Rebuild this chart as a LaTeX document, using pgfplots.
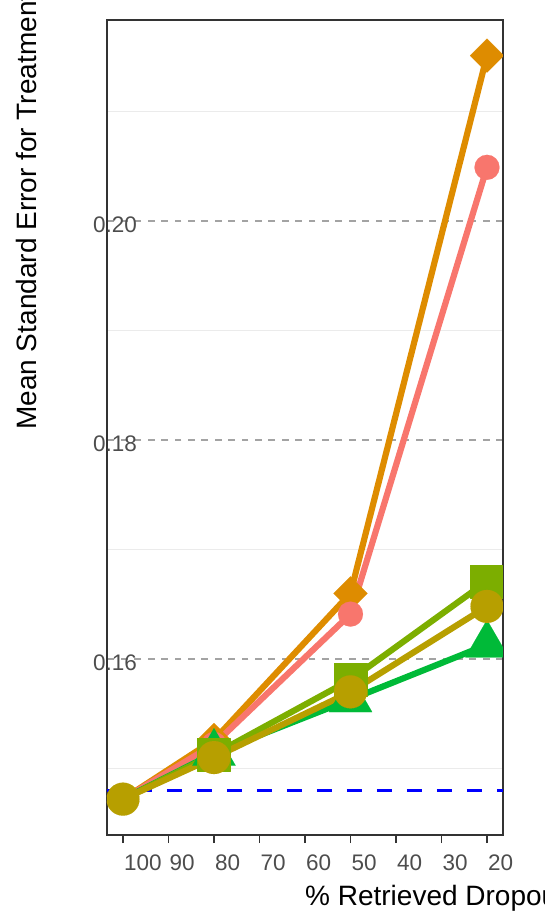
\documentclass[border=0pt]{standalone}
\usepackage{fontspec}
\setmainfont{Liberation Sans}
\usepackage{pgfplots}
\usepackage{pgfplotstable}
\pgfplotsset{compat=1.18}

\definecolor{cSalmon}{HTML}{F8766D}
\definecolor{cOrange}{HTML}{DE8C00}
\definecolor{cGold}{HTML}{B79F00}
\definecolor{cOlive}{HTML}{7CAE00}
\definecolor{cGreen}{HTML}{00BA38}
\definecolor{tickgrey}{HTML}{4D4D4D}
\definecolor{framegrey}{HTML}{333333}
\definecolor{majorgrid}{HTML}{A3A3A3}
\definecolor{minorgrid}{HTML}{EBEBEB}

% mean standard error by share of retrieved dropouts
\pgfplotstableread{
x   y
100 0.1472
80  0.1526
50  0.1660
20  0.2151
}\tOrange
\pgfplotstableread{
x   y
100 0.1472
80  0.1522
50  0.1641
20  0.2049
}\tSalmon
\pgfplotstableread{
x   y
100 0.1472
80  0.1514
50  0.1563
20  0.1613
}\tGreen
\pgfplotstableread{
x   y
100 0.1472
80  0.1513
50  0.1581
20  0.1671
}\tOlive
\pgfplotstableread{
x   y
100 0.1472
80  0.1510
50  0.1570
20  0.1648
}\tGold

\begin{document}
\begin{tikzpicture}[x=1pt,y=1pt]
\path[use as bounding box] (0,0) rectangle (544,913);
\clip (0,0) rectangle (544,913);
\begin{axis}[
  at={(107pt,78pt)}, anchor=south west,
  scale only axis, width=396pt, height=815pt,
  x dir=reverse,
  xmin=16.484, xmax=103.516,
  ymin=0.143927, ymax=0.218356,
  xtick={20,30,...,100},
  ytick={0.16,0.18,0.20},
  minor ytick={0.15,0.17,0.19,0.21},
  ymajorgrids, yminorgrids,
  major grid style={draw=majorgrid, line width=1.3pt, dash pattern=on 6.7pt off 6.7pt},
  minor grid style={draw=minorgrid, line width=1.5pt},
  axis line style={draw=framegrey, line width=1.6pt},
  xtick pos=lower,
  tick align=outside,
  major tick length=8pt,
  minor tick length=0pt,
  xtick style={draw=framegrey, line width=1.5pt},
  ytick style={draw=none},
  /pgf/number format/assume math mode=true,
  ticklabel style={font=\fontsize{22.5}{27}\selectfont, text=tickgrey, inner sep=0pt},
  xticklabel style={anchor=north west, xshift=1pt, yshift=-12pt},
  yticklabel style={anchor=center, xshift=16pt, yshift=-4pt,
    /pgf/number format/.cd, fixed, fixed zerofill, precision=2},
  clip marker paths=true,
  every axis plot/.append style={line join=round},
]
% reference level
\addplot[blue, line width=3pt, dash pattern=on 15pt off 15pt]
  coordinates {(103.516,0.1480) (16.484,0.1480)};

% lines
\addplot[cOrange, line width=6.2pt, no markers] table {\tOrange};
\addplot[cSalmon, line width=6.2pt, no markers] table {\tSalmon};
\addplot[cGreen,  line width=6.2pt, no markers] table {\tGreen};
\addplot[cOlive,  line width=6.2pt, no markers] table {\tOlive};
\addplot[cGold,   line width=6.2pt, no markers] table {\tGold};

% points (the shared starting value at 100 carries one mark only)
\addplot[cOrange, only marks, restrict x to domain=10:90, mark=square*, mark size=12pt,
  mark options={solid, rotate=45, line width=0.1pt, draw=cOrange, fill=cOrange}] table {\tOrange};
\addplot[cSalmon, only marks, restrict x to domain=10:90, mark=*, mark size=12.5pt,
  mark options={solid, line width=0.1pt, draw=cSalmon, fill=cSalmon}] table {\tSalmon};
\addplot[cGreen, only marks, restrict x to domain=10:90, mark=triangle*, mark size=25pt,
  mark options={solid, line width=0.1pt, draw=cGreen, fill=cGreen}] table {\tGreen};
\addplot[cOlive, only marks, restrict x to domain=10:90, mark=square*, mark size=16.5pt,
  mark options={solid, line width=0.1pt, draw=cOlive, fill=cOlive}] table {\tOlive};
\addplot[cGold, only marks, mark=*, mark size=16.5pt,
  mark options={solid, line width=0.1pt, draw=cGold, fill=cGold}] table {\tGold};
\end{axis}

\node[rotate=90, anchor=base west, inner sep=0pt, font=\fontsize{28}{34}\selectfont]
  at (36,483) {Mean Standard Error for Treatment Effect};
\node[anchor=base west, inner sep=0pt, font=\fontsize{28}{34}\selectfont]
  at (305,8) {\% Retrieved Dropouts};
\end{tikzpicture}
\end{document}
